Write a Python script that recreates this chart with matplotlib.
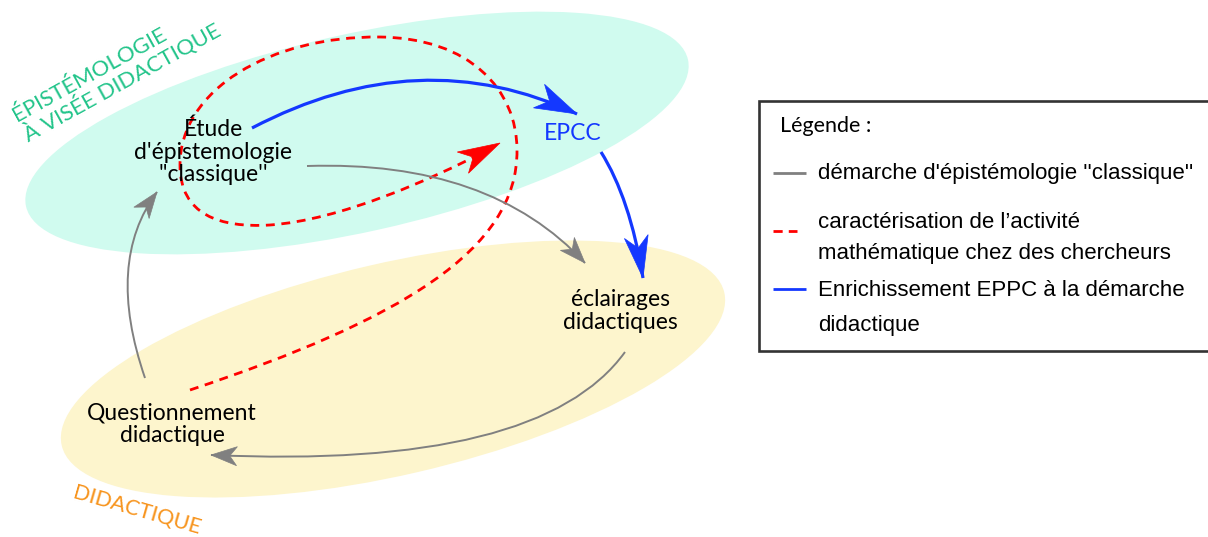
import numpy as np
import matplotlib
matplotlib.use("Agg")
import matplotlib.pyplot as plt
from matplotlib.patches import Ellipse, PathPatch, Polygon, Rectangle
from matplotlib.path import Path

# zones (centre, width, height, angle) in pixel space, y downward
ZONE_NAMES = ["epistemologie", "didactique"]
ZONE_CENTERS = [(357, 133), (393, 369)]
ZONE_SIZES = [(678, 198), (680, 212)]
ZONE_ANGLES = [-12.5, -13.0]
ZONE_COLORS = ["#d0fbef", "#fdf5cd"]

# node labels
NODE_LABELS = ["Étude\nd'épistemologie\n''classique''", "EPCC",
               "éclairages\ndidactiques", "Questionnement\ndidactique"]
NODE_POS = [(213, 152), (573, 133), (620, 311), (172, 424)]
NODE_COLORS = ["black", "#1438ff", "black", "black"]

# arrows: control points of each curve
BLUE_1 = [(252, 128), (420, 40), (577, 114)]
BLUE_2 = [(601, 152), (630, 198), (643, 278)]
GRAY_1 = [(307, 166), (490, 160), (585, 263)]
GRAY_2 = [(625, 352), (540, 470), (211, 455)]
GRAY_3 = [(145, 378), (105, 262), (157, 192)]
RED_LOOP = [(190, 390), (400, 320), (518, 250), (517, 150),
            (517, 90), (470, 38), (380, 37),
            (270, 36), (180, 90), (180, 165),
            (180, 215), (220, 228), (270, 225),
            (340, 220), (430, 180), (500, 143)]

LEGEND_TITLE = "Légende :"
LEGEND_LINES = ["démarche d'épistémologie ''classique''",
                "caractérisation de l’activité",
                "mathématique chez des chercheurs",
                "Enrichissement EPPC à la démarche",
                "didactique"]
LEGEND_LINE_Y = [173, 222, 253, 290, 325]
LEGEND_KEY_Y = [173, 231, 289]

BLUE = "#1438ff"
GRAY = "#808080"
RED = "#ff0000"


def stealth(ax, tip, prev, length, width, color):
    tip = np.array(tip, float)
    d = tip - np.array(prev, float)
    d /= np.hypot(*d)
    n = np.array([-d[1], d[0]])
    back = tip - d * length
    notch = tip - d * length * 0.72
    pts = [tip, back + n * width / 2, notch, back - n * width / 2]
    ax.add_patch(Polygon(pts, closed=True, facecolor=color, edgecolor=color,
                         lw=0.5, zorder=5))


def curve(ax, pts, color, lw, ls="-"):
    if len(pts) == 3:
        codes = [Path.MOVETO, Path.CURVE3, Path.CURVE3]
    else:
        codes = [Path.MOVETO] + [Path.CURVE4] * (len(pts) - 1)
    ax.add_patch(PathPatch(Path(pts, codes), facecolor="none", edgecolor=color,
                           lw=lw, ls=ls, capstyle="butt", zorder=4))


fig = plt.figure(figsize=(12.08, 5.37), dpi=100)
ax = fig.add_axes([0, 0, 1, 1])
ax.set_xlim(0, 1208)
ax.set_ylim(537, 0)
ax.axis("off")

for c, (w, h), a, col in zip(ZONE_CENTERS, ZONE_SIZES, ZONE_ANGLES, ZONE_COLORS):
    ax.add_patch(Ellipse(c, w, h, angle=a, facecolor=col, edgecolor="none", zorder=1))

ax.text(20, 127, "ÉPISTÉMOLOGIE\nÀ VISÉE DIDACTIQUE", rotation=29,
        rotation_mode="anchor", ha="left", va="center", multialignment="left",
        color="#22c48a", fontsize=16, family="Lato", linespacing=1.05, zorder=3)
ax.text(137, 511, "DIDACTIQUE", rotation=-16, rotation_mode="anchor",
        ha="center", va="center", color="#f7941d", fontsize=15.5, family="Lato",
        zorder=3)

for lab, p, col in zip(NODE_LABELS, NODE_POS, NODE_COLORS):
    ax.text(p[0], p[1], lab, ha="center", va="center", color=col, fontsize=16.5,
            family="Lato", linespacing=1.1, zorder=6)

# arrows
curve(ax, RED_LOOP[:-1] + [(488, 150)], RED, 2.0, (0, (3.2, 2.4)))
stealth(ax, RED_LOOP[-1], RED_LOOP[-2], 42, 24, RED)

for pts, col, lw, hl, hw in [(BLUE_1, BLUE, 2.3, 42, 26),
                             (BLUE_2, BLUE, 2.3, 42, 24),
                             (GRAY_1, GRAY, 1.4, 26, 19),
                             (GRAY_2, GRAY, 1.4, 26, 19),
                             (GRAY_3, GRAY, 1.4, 26, 19)]:
    curve(ax, pts, col, lw)
    stealth(ax, pts[-1], pts[-2], hl, hw, col)

# legend box
ax.add_patch(Rectangle((759, 101), 470, 250, facecolor="white", edgecolor="#333333",
                       lw=1.9, zorder=7))
ax.text(780, 126, LEGEND_TITLE, ha="left", va="center", fontsize=15.5,
        family="Lato", zorder=8)
key_styles = [(GRAY, "-", 806), (RED, (0, (3.3, 2.2)), 797), (BLUE, "-", 806)]
for y, (col, ls, x1) in zip(LEGEND_KEY_Y, key_styles):
    ax.plot([773, x1], [y, y], color=col, lw=2.0, ls=ls, zorder=8,
            solid_capstyle="butt", dash_capstyle="butt")
for y, lab in zip(LEGEND_LINE_Y, LEGEND_LINES):
    ax.text(818, y, lab, ha="left", va="center", fontsize=16,
            family="Liberation Sans", zorder=8)

fig.savefig("out.png", dpi=100)
